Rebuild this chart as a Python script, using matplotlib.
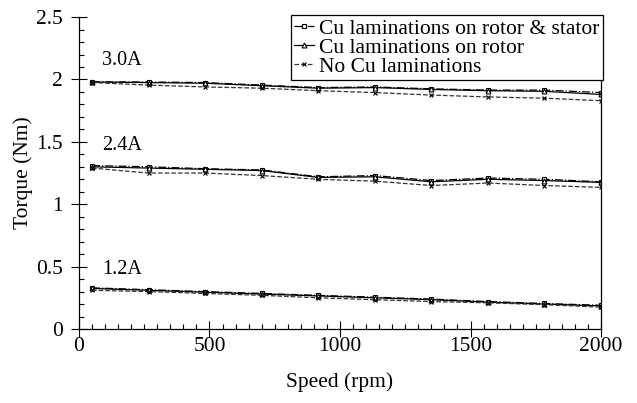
import matplotlib
matplotlib.use("Agg")
import matplotlib.pyplot as plt
from matplotlib.ticker import MultipleLocator

plt.rcParams['font.family'] = ['Liberation Serif', 'DejaVu Serif']

speed = [50, 267, 483, 700, 917, 1133, 1350, 1567, 1783, 2000]

# 3.0A
rs_30 = [1.98, 1.98, 1.975, 1.955, 1.935, 1.94, 1.925, 1.915, 1.915, 1.895]
r_30 = [1.98, 1.975, 1.97, 1.95, 1.93, 1.935, 1.92, 1.91, 1.905, 1.88]
no_30 = [1.975, 1.955, 1.94, 1.93, 1.91, 1.895, 1.875, 1.86, 1.85, 1.83]
# 2.4A
rs_24 = [1.31, 1.30, 1.285, 1.275, 1.22, 1.23, 1.19, 1.21, 1.20, 1.18]
r_24 = [1.30, 1.29, 1.28, 1.27, 1.215, 1.22, 1.18, 1.20, 1.19, 1.175]
no_24 = [1.29, 1.25, 1.25, 1.23, 1.20, 1.185, 1.15, 1.17, 1.15, 1.135]
# 1.2A
rs_12 = [0.33, 0.315, 0.30, 0.285, 0.27, 0.255, 0.24, 0.22, 0.205, 0.19]
r_12 = [0.325, 0.31, 0.295, 0.28, 0.265, 0.25, 0.235, 0.215, 0.20, 0.185]
no_12 = [0.31, 0.30, 0.285, 0.27, 0.25, 0.235, 0.22, 0.21, 0.195, 0.175]

labels = ["Cu laminations on rotor & stator", "Cu laminations on rotor", "No Cu laminations"]
currents = ["3.0A", "2.4A", "1.2A"]
current_pos = [(165, 2.15), (165, 1.47), (165, 0.48)]

fig = plt.figure(figsize=(6.37, 4.03), dpi=100)
ax = fig.add_axes([0.124, 0.1836, 0.8195, 0.774])

groups = [(rs_30, r_30, no_30), (rs_24, r_24, no_24), (rs_12, r_12, no_12)]
for gi, (rs, r, no) in enumerate(groups):
    l1, = ax.plot(speed, rs, color='black', lw=0.9, ls='-.', marker='s', ms=3.5,
                  mfc='white', mec='black', mew=0.8)
    l2, = ax.plot(speed, r, color='black', lw=0.9, ls='-', marker='^', ms=3.5,
                  mfc='white', mec='black', mew=0.8)
    l3, = ax.plot(speed, no, color='#333333', lw=0.9, ls='--', marker='x', ms=3.5,
                  mec='black', mew=0.8)
    if gi == 0:
        handles = [l1, l2, l3]

for txt, (xp, yp) in zip(currents, current_pos):
    ax.text(xp, yp, txt, fontsize=14.5, ha='center', va='center')

ax.set_xlim(0, 2000)
ax.set_ylim(0, 2.5)
ax.xaxis.set_major_locator(MultipleLocator(500))
ax.xaxis.set_minor_locator(MultipleLocator(50))
ax.yaxis.set_major_locator(MultipleLocator(0.5))
ax.yaxis.set_minor_locator(MultipleLocator(0.1))
ax.tick_params(which='major', direction='inout', length=11, width=0.8, labelsize=15.5)
ax.tick_params(which='minor', direction='in', length=3.8, width=0.8)
ax.tick_params(axis='x', which='major', pad=0)
ax.tick_params(axis='y', which='major', pad=6)
ax.set_yticks([0, 0.5, 1, 1.5, 2, 2.5])
ax.set_yticklabels(['0', '0.5', '1', '1.5', '2', '2.5'])
ax.spines['top'].set_visible(False)
for s in ['left', 'bottom', 'right']:
    ax.spines[s].set_linewidth(0.9)

ax.set_xlabel('Speed (rpm)', fontsize=15.5, labelpad=12)
ax.set_ylabel('Torque (Nm)', fontsize=15.5, labelpad=2)

leg = ax.legend(handles, labels, loc='upper right', fontsize=15.5, frameon=True,
                fancybox=False, edgecolor='black', framealpha=1, borderaxespad=0,
                handlelength=0.9, handletextpad=0.25, borderpad=0.15, labelspacing=-0.05,
                bbox_to_anchor=(1.003, 1.006))
leg.get_frame().set_linewidth(0.9)

fig.savefig('out.png', dpi=100)
